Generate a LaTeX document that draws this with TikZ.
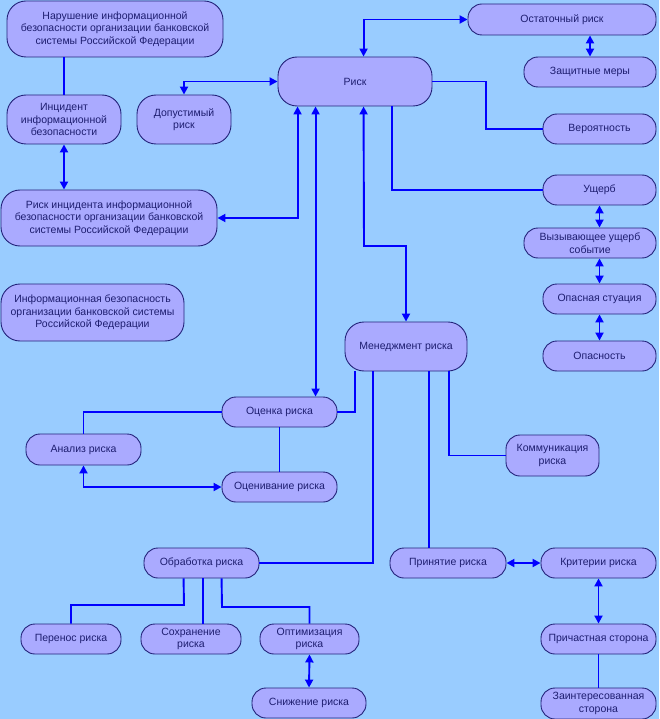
\documentclass[tikz,border=0pt]{standalone}
\usepackage{fontspec}
\setmainfont{Liberation Sans}
\usetikzlibrary{arrows.meta}
\definecolor{bg}{HTML}{99CCFF}
\definecolor{boxfill}{HTML}{AAAAFF}
\definecolor{boxline}{HTML}{23237A}
\definecolor{boxtext}{HTML}{1E1E70}
\definecolor{conn}{HTML}{0000FF}
\begin{document}
\begin{tikzpicture}[x=1pt,y=-1pt,
  box/.style={draw=boxline, line width=0.9pt, fill=boxfill, text=boxtext, rounded corners=14pt,
    inner sep=0pt, align=center, font=\fontsize{10.5}{12.5}\selectfont},
  bigbox/.style={box, rounded corners=19pt},
  wire/.style={draw=conn, line width=1.9pt},
  dbl/.style={wire, {Triangle[length=8pt,width=8pt]}-{Triangle[length=8pt,width=8pt]}}]
\fill[bg] (0,0) rectangle (659,719);
\useasboundingbox (0,0) rectangle (659,719);

% nodes
\node[bigbox, minimum width=216pt, minimum height=56pt] (nar) at (115,29) {Нарушение информационной\\безопасности организации банковской\\системы Российской Федерации};
\node[bigbox, minimum width=114pt, minimum height=49pt] (inc) at (64,119.5) {Инцидент\\информационной\\безопасности};
\node[bigbox, minimum width=94pt, minimum height=49pt] (dop) at (184,119.5) {Допустимый\\риск};
\node[bigbox, minimum width=216pt, minimum height=56pt] (ri) at (109,218) {Риск инцидента информационной\\безопасности организации банковской\\системы Российской Федерации};
\node[bigbox, minimum width=183pt, minimum height=57pt] (ib) at (92.5,312.5) {Информационная безопасность\\организации банковской системы\\Российской Федерации};
\node[bigbox, minimum width=154pt, minimum height=49pt] (risk) at (355,81.5) {Риск};
\node[box, minimum width=188pt, minimum height=31pt] (ost) at (562,19.5) {Остаточный риск};
\node[box, minimum width=132pt, minimum height=30pt] (zash) at (590,72) {Защитные меры};
\node[box, minimum width=113pt, minimum height=30pt] (ver) at (599.5,129) {Вероятность};
\node[box, minimum width=113pt, minimum height=30pt] (ush) at (599.5,190) {Ущерб};
\node[box, minimum width=132pt, minimum height=30pt] (vyz) at (590,243) {Вызывающее ущерб\\событие};
\node[box, minimum width=113pt, minimum height=30pt] (op) at (599.5,299) {Опасная стуация};
\node[box, minimum width=113pt, minimum height=30pt] (opn) at (599.5,356) {Опасность};
\node[bigbox, minimum width=122pt, minimum height=49pt] (men) at (406,346.5) {Менеджмент риска};
\node[box, minimum width=115pt, minimum height=30pt] (ocenka) at (279.5,412) {Оценка риска};
\node[box, minimum width=115pt, minimum height=31pt] (anal) at (83.5,449.5) {Анализ риска};
\node[box, minimum width=115pt, minimum height=30pt] (ocv) at (279.5,487) {Оценивание риска};
\node[box, minimum width=93pt, minimum height=41pt] (kom) at (552.5,455.5) {Коммуникация\\риска};
\node[box, minimum width=115pt, minimum height=30pt] (obr) at (201.5,563) {Обработка риска};
\node[box, minimum width=116pt, minimum height=30pt] (prin) at (448,563) {Принятие риска};
\node[box, minimum width=115pt, minimum height=30pt] (krit) at (598.5,563) {Критерии риска};
\node[box, minimum width=115pt, minimum height=30pt] (prich) at (598.5,639) {Причастная сторона};
\node[box, minimum width=115pt, minimum height=31pt] (zain) at (598.5,703.5) {Заинтересованная\\сторона};
\node[box, minimum width=100pt, minimum height=30pt] (pere) at (71,639) {Перенос риска};
\node[box, minimum width=100pt, minimum height=30pt] (sohr) at (191,639) {Сохранение\\риска};
\node[box, minimum width=99pt, minimum height=30pt] (opt) at (309.5,639) {Оптимизация\\риска};
\node[box, minimum width=114pt, minimum height=30pt] (sniz) at (309,703) {Снижение риска};

% attachment points
\coordinate (r1) at ([xshift=20pt]risk.south west);
\coordinate (r2) at ([xshift=38pt]risk.south west);
\coordinate (r3) at ([xshift=86pt]risk.north west);
\coordinate (r4) at ([xshift=86pt]risk.south west);
\coordinate (r5) at ([xshift=114pt]risk.south west);
\coordinate (rb) at (364,246);
\coordinate (vb) at (486,100);
\coordinate (m1) at ([xshift=10pt]men.south west);
\coordinate (m2) at ([xshift=104pt]men.south west);
\coordinate (m3) at ([xshift=28pt]men.south west);
\coordinate (m4) at ([xshift=84pt]men.south west);
\coordinate (o1) at ([xshift=40pt]obr.south west);
\coordinate (o2) at ([xshift=59pt]obr.south west);
\coordinate (o3) at ([xshift=78pt]obr.south west);
\coordinate (ob1) at (184,605);
\coordinate (ob3) at (222,607);

% connectors
\draw[wire] (inc.north |- nar.south) -- (inc.north);
\draw[dbl] (inc.south) -- (inc.south |- ri.north);
\draw[dbl] (dop.north) |- (risk.west);
\draw[dbl] (ri.east) -| (r1);
\draw[dbl] (r2) -- (r2 |- ocenka.north);
\draw[dbl] (r3) |- (ost.west);
\draw[dbl] (r4) -- (rb) -| (men.north);
\draw[dbl] (zash.north |- ost.south) -- (zash.north);
\draw[wire] (risk.east) -| (vb) |- (ver.west);
\draw[wire] (r5) |- (ush.west);
\draw[dbl] (ush.south) -- (ush.south |- vyz.north);
\draw[dbl] (op.north |- vyz.south) -- (op.north);
\draw[dbl] (op.south) -- (opn.north);
\draw[wire] (m1) |- (ocenka.east);
\draw[wire] (ocenka.west) -| (anal.north);
\draw[wire] (ocenka.south) -- (ocv.north);
\draw[dbl] (anal.south) |- (ocv.west);
\draw[wire] (m2) |- (kom.west);
\draw[wire] (m3) |- (obr.east);
\draw[wire] (m4) -- (m4 |- prin.north);
\draw[dbl] (prin.east) -- (krit.west);
\draw[dbl] (krit.south) -- (prich.north);
\draw[wire] (prich.south) -- (zain.north);
\draw[wire] (o1) -- (ob1) -| (pere.north);
\draw[wire] (o2) -- (o2 |- sohr.north);
\draw[wire] (o3) -- (ob3) -| (opt.north);
\draw[dbl] (opt.south) -- (sniz.north);
\end{tikzpicture}
\end{document}
